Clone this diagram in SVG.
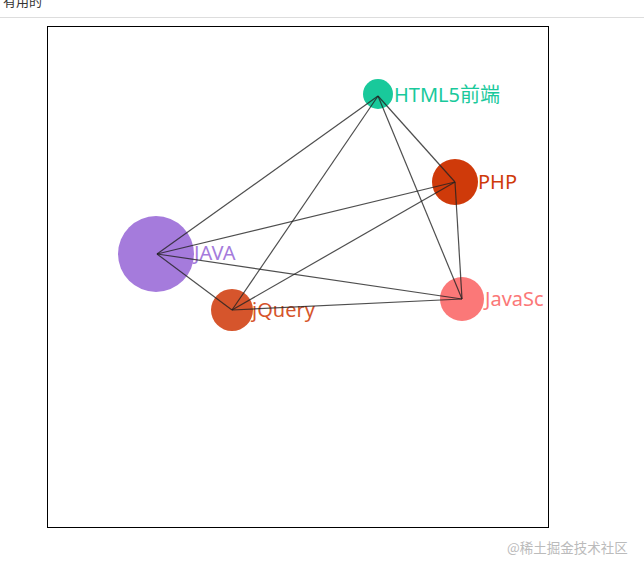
<svg xmlns="http://www.w3.org/2000/svg" width="644" height="571" viewBox="0 0 644 571">
<style>
.lbl{font-family:"Microsoft YaHei","Noto Sans","Noto Sans CJK SC",sans-serif;font-size:20px;dominant-baseline:central}
.edge{stroke:#222;stroke-opacity:0.8;stroke-width:1.2;fill:none}
</style>
<defs><clipPath id="c"><rect x="48" y="27" width="499" height="499"/></clipPath></defs>
<rect width="644" height="571" fill="#fff"/>
<text x="3" y="6" font-family="'Noto Sans CJK SC',sans-serif" font-size="13" fill="#333">有用的</text>
<line x1="0" y1="17.5" x2="644" y2="17.5" stroke="#ddd" stroke-width="1"/>
<rect x="47.5" y="26.5" width="501" height="501" fill="none" stroke="#000" stroke-width="1"/>
<g clip-path="url(#c)">
<g id="node-html5"><circle cx="378" cy="94" r="15" fill="#19c99b"/><text class="lbl" x="394" y="94" fill="#19c99b">HTML5前端</text></g>
<g id="node-php"><circle cx="455" cy="182" r="23" fill="#cf3a0a"/><text class="lbl" x="478" y="181" fill="#cf3a0a">PHP</text></g>
<g id="node-javascript"><circle cx="462" cy="299" r="22" fill="#fb7878"/><text class="lbl" x="485" y="298" fill="#fb7878">JavaSc</text></g>
<g id="node-java"><circle cx="156" cy="254" r="38" fill="#a57bdc"/><text class="lbl" x="194" y="252" fill="#a57bdc">JAVA</text></g>
<g id="node-jquery"><circle cx="232" cy="310" r="21" fill="#d6552c"/><text class="lbl" x="252" y="309" fill="#d6552c">jQuery</text></g>
<g id="connectors">
<line class="edge" x1="157" y1="254" x2="378" y2="96"/>
<line class="edge" x1="157" y1="254" x2="455" y2="182"/>
<line class="edge" x1="157" y1="254" x2="462" y2="299"/>
<line class="edge" x1="157" y1="254" x2="232" y2="310"/>
<line class="edge" x1="232" y1="310" x2="378" y2="96"/>
<line class="edge" x1="232" y1="310" x2="455" y2="182"/>
<line class="edge" x1="232" y1="310" x2="462" y2="299"/>
<line class="edge" x1="378" y1="96" x2="455" y2="182"/>
<line class="edge" x1="378" y1="96" x2="462" y2="299"/>
<line class="edge" x1="455" y1="182" x2="462" y2="299"/>
</g>
</g>
<text x="507" y="553" font-family="'Noto Sans CJK SC',sans-serif" font-size="13.5" fill="#bbb">@稀土掘金技术社区</text>
</svg>
